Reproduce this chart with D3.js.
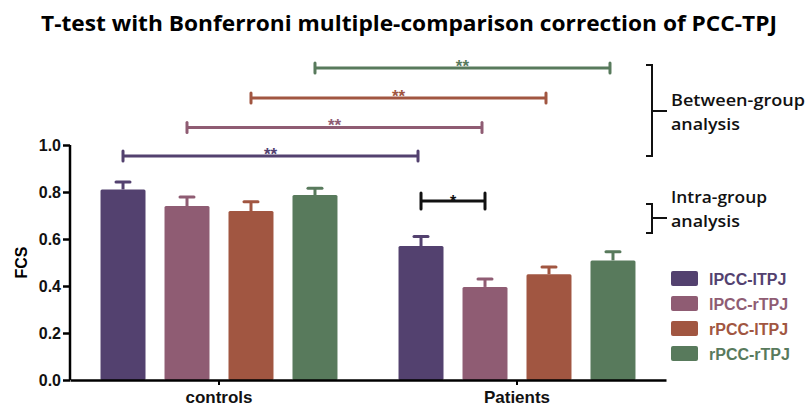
<!DOCTYPE html>
<html>
<head>
<meta charset="utf-8">
<script src="https://cdn.jsdelivr.net/npm/d3@7"></script>
<style>
  body { margin: 0; background: #fff; }
  svg { display: block; font-family: "Liberation Sans", Arial, sans-serif; }
</style>
</head>
<body>
<div id="chart"></div>
<script>
const groups = ["controls", "Patients"];
const series = ["lPCC-lTPJ", "lPCC-rTPJ", "rPCC-lTPJ", "rPCC-rTPJ"];
const legendLabels = ["lPCC-lTPJ", "lPCC-rTPJ", "rPCC-lTPJ", "rPCC-rTPJ"];
const colors = ["#53416f", "#8f5c73", "#a15641", "#587a5c"];
const means = [
  [0.811, 0.740, 0.719, 0.787],
  [0.570, 0.396, 0.450, 0.509]
];
const errTops = [
  [0.843, 0.779, 0.759, 0.816],
  [0.611, 0.430, 0.481, 0.546]
];
const yTicks = [0, 0.2, 0.4, 0.6, 0.8, 1.0];
// between-group brackets: series i controls vs patients, height in FCS units
const betweenY = [0.953, 1.075, 1.2, 1.328];
const betweenStars = ["**", "**", "**", "**"];
// intra-group bracket among patients
const intra = { group: "Patients", from: 0, to: 1, y: 0.762, label: "*" };

const W = 811, H = 406;
const svg = d3.select("#chart").append("svg").attr("width", W).attr("height", H);

const x0 = d3.scaleBand().domain(groups).range([70, 666]);
const x1 = d3.scaleBand().domain(series).range([0, x0.bandwidth()])
  .paddingInner(0.297).paddingOuter(0.477);
const y = d3.scaleLinear().domain([0, 1]).range([380, 145]);

// title
svg.append("text")
  .attr("x", 409).attr("y", 31)
  .attr("text-anchor", "middle")
  .attr("font-family", "'Open Sans', 'Noto Sans', sans-serif")
  .attr("font-weight", "bold")
  .attr("font-size", "21px")
  .attr("textLength", 736).attr("lengthAdjust", "spacingAndGlyphs")
  .text("T-test with Bonferroni multiple-comparison correction of PCC-TPJ");

// bars
const bars = [];
groups.forEach((g, gi) => {
  series.forEach((s, si) => {
    bars.push({ g, s, si, v: means[gi][si], e: errTops[gi][si] });
  });
});
const barG = svg.append("g");
barG.selectAll("rect").data(bars).enter().append("rect")
  .attr("x", d => x0(d.g) + x1(d.s))
  .attr("y", d => y(d.v))
  .attr("width", x1.bandwidth())
  .attr("height", d => y(0) - y(d.v))
  .attr("rx", 1.5)
  .attr("fill", d => colors[d.si]);

// error bars
const errG = svg.append("g").attr("stroke-width", 3);
bars.forEach(d => {
  const cx = x0(d.g) + x1(d.s) + x1.bandwidth() / 2;
  errG.append("line").attr("x1", cx).attr("x2", cx)
    .attr("y1", y(d.v)).attr("y2", y(d.e)).attr("stroke", colors[d.si]);
  errG.append("line").attr("x1", cx - 7).attr("x2", cx + 7)
    .attr("y1", y(d.e)).attr("y2", y(d.e))
    .attr("stroke", colors[d.si]).attr("stroke-linecap", "round");
});

// y axis
const yAxis = svg.append("g")
  .attr("transform", "translate(70,0)")
  .call(d3.axisLeft(y).tickValues(yTicks).tickFormat(d3.format(".1f")).tickSize(7).tickPadding(2));
yAxis.select(".domain").attr("stroke-width", 2.5).attr("d", "M0," + y(0) + "V" + y(1));
yAxis.selectAll(".tick line").attr("stroke-width", 2.5);
yAxis.selectAll("text").attr("font-size", "16px").attr("font-weight", "bold")
  .attr("fill", "#111").attr("font-family", "'Liberation Sans', Arial, sans-serif");

// x axis
const xAxis = svg.append("g")
  .attr("transform", "translate(0," + y(0) + ")")
  .call(d3.axisBottom(x0).tickSize(5).tickSizeOuter(0).tickPadding(6));
xAxis.select(".domain").attr("stroke-width", 2.5);
xAxis.selectAll(".tick line").attr("stroke-width", 2);
xAxis.selectAll("text").attr("font-size", "17px").attr("font-weight", "bold")
  .attr("fill", "#111").attr("font-family", "'Liberation Sans', Arial, sans-serif");

// y label
svg.append("text")
  .attr("transform", "translate(27," + y(0.5) + ") rotate(-90)")
  .attr("text-anchor", "middle")
  .attr("font-size", "16px").attr("font-weight", "bold")
  .text("FCS");

// significance brackets
function bracket(xa, xb, yy, color, label, cap, starSize, dyStar) {
  const g = svg.append("g").attr("stroke", color).attr("stroke-width", 3);
  g.append("line").attr("x1", xa).attr("x2", xb).attr("y1", yy).attr("y2", yy);
  g.append("line").attr("x1", xa).attr("x2", xa).attr("y1", yy - cap).attr("y2", yy + cap).attr("stroke-linecap", "round");
  g.append("line").attr("x1", xb).attr("x2", xb).attr("y1", yy - cap).attr("y2", yy + cap).attr("stroke-linecap", "round");
  svg.append("text")
    .attr("x", (xa + xb) / 2).attr("y", yy + dyStar)
    .attr("text-anchor", "middle")
    .attr("font-size", starSize).attr("font-weight", "bold")
    .attr("fill", color)
    .text(label);
}
const center = (g, s) => x0(g) + x1(s) + x1.bandwidth() / 2;
series.forEach((s, i) => {
  bracket(center("controls", s), center("Patients", s) - 3, y(betweenY[i]),
    colors[i], betweenStars[i], 5, "17px", 4);
});
bracket(center(intra.group, series[intra.from]), center(intra.group, series[intra.to]),
  y(intra.y), "#111", intra.label, 8, "16px", 6);

// right side annotations
function sideBrace(top, bottom, mid, lines) {
  const g = svg.append("g").attr("stroke", "#111").attr("stroke-width", 2).attr("fill", "none");
  g.append("path").attr("d", `M646,${top}H652V${bottom}H646`);
  g.append("line").attr("x1", 652).attr("x2", 667).attr("y1", mid).attr("y2", mid);
  lines.forEach(t => {
    svg.append("text")
      .attr("x", 671).attr("y", t.y)
      .attr("font-family", "'Open Sans', 'Noto Sans', sans-serif")
      .attr("font-size", "16.5px").attr("font-weight", "600")
      .attr("fill", "#111")
      .attr("textLength", t.w).attr("lengthAdjust", "spacingAndGlyphs")
      .text(t.text);
  });
}
sideBrace(65, 156, 111, [{ text: "Between-group", y: 106, w: 134 }, { text: "analysis", y: 130, w: 69 }]);
sideBrace(204, 233, 218, [{ text: "Intra-group", y: 203, w: 96 }, { text: "analysis", y: 227, w: 69 }]);

// legend
const legend = svg.append("g").attr("transform", "translate(671,271)");
legendLabels.forEach((l, i) => {
  legend.append("rect")
    .attr("x", 0).attr("y", i * 25)
    .attr("width", 27).attr("height", 15).attr("rx", 2)
    .attr("fill", colors[i]);
  legend.append("text")
    .attr("x", 38).attr("y", i * 25 + 13.5)
    .attr("font-size", "16px").attr("font-weight", "bold")
    .attr("fill", colors[i])
    .text(l);
});
</script>
</body>
</html>
